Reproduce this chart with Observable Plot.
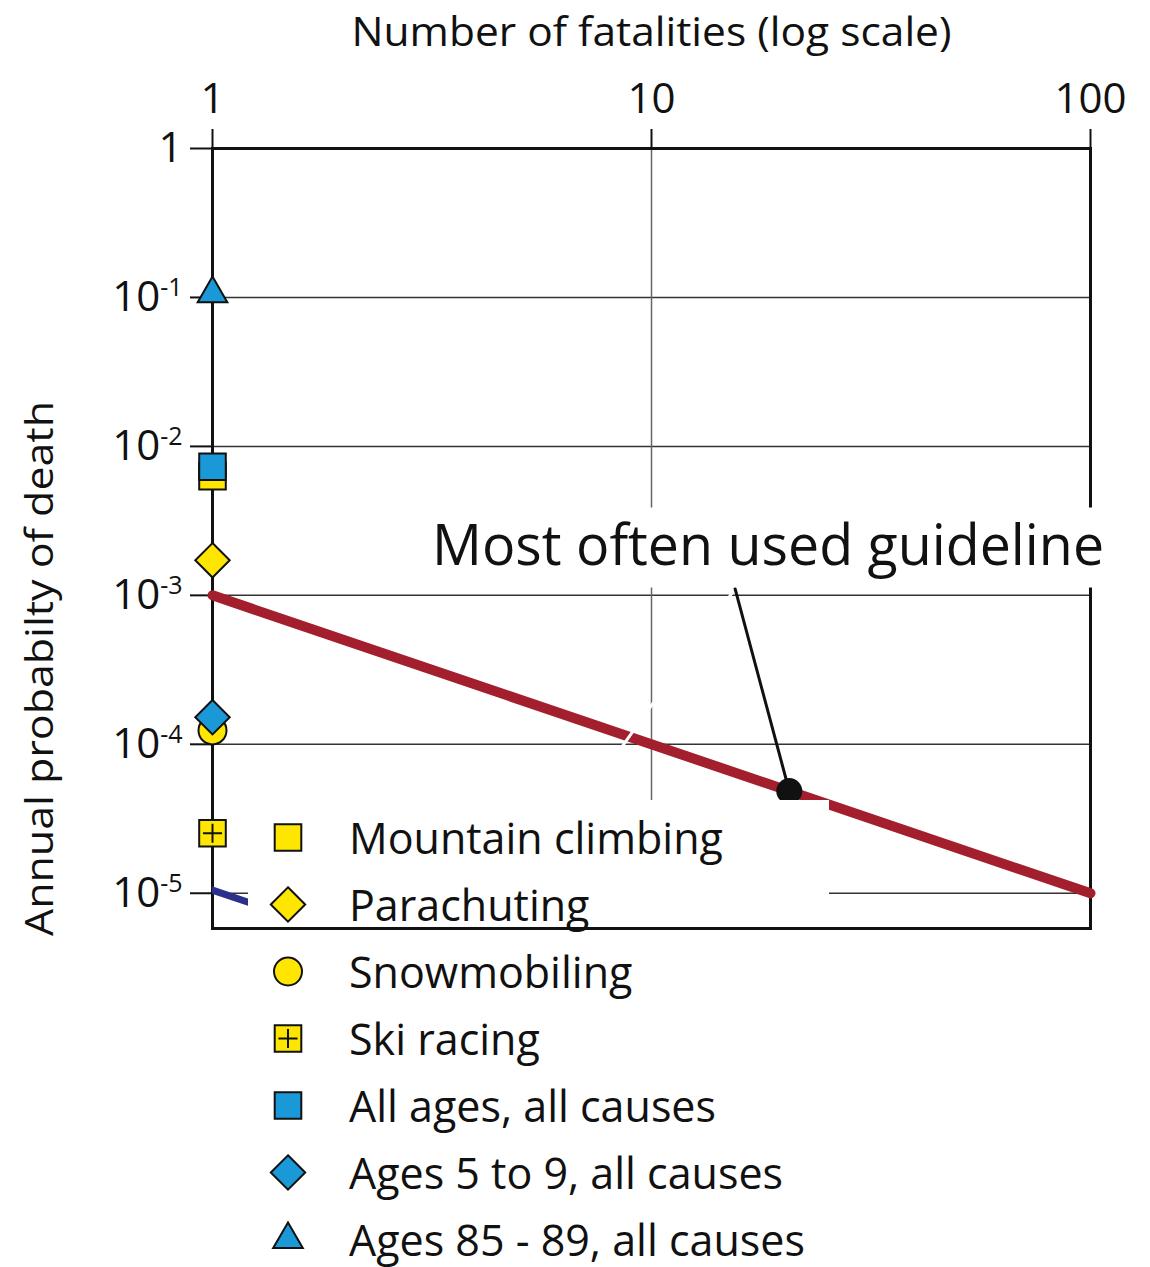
<!DOCTYPE html>
<html>
<head>
<meta charset="utf-8">
<script src="https://cdn.jsdelivr.net/npm/d3@7"></script>
<script src="https://cdn.jsdelivr.net/npm/@observablehq/plot@0.6"></script>
<style>
html,body{margin:0;padding:0;background:#fff;}
#wrap{position:relative;width:1150px;height:1267px;overflow:hidden;}
#legend{position:absolute;left:248px;top:800px;width:581px;height:467px;background:#fff;box-sizing:border-box;padding-top:3.5px;font-family:"Open Sans",sans-serif;font-size:43px;color:#111;}
.row{display:flex;align-items:center;height:67px;}
.row svg{width:80px;height:67px;flex:none;display:block;}
.row span{margin-left:21px;white-space:nowrap;line-height:1;}
</style>
</head>
<body>
<div id="wrap"></div>
<script>
// ---------------- data ----------------
const xTicks = [1, 10, 100];
const yTicks = [1, 1e-1, 1e-2, 1e-3, 1e-4, 1e-5];
const xDomain = [1, 100];
const yDomain = [5.8e-6, 1];

const categories = ["Mountain climbing", "Parachuting", "Snowmobiling", "Ski racing",
  "All ages, all causes", "Ages 5 to 9, all causes", "Ages 85 - 89, all causes"];
const fatalities = [1, 1, 1, 1, 1, 1, 1];
const probabilities = [6.3e-3, 1.72e-3, 1.24e-4, 2.53e-5, 7.3e-3, 1.52e-4, 0.106];

const guidelineFatalities = [1, 100];
const guidelineProbabilities = [1e-3, 1e-5];
const markedFatalities = [20.6];
const markedProbabilities = [4.85e-5];
const leaderFatalities = [20.6, 15.5];
const leaderProbabilities = [4.85e-5, 1.11e-3];
const lowerLineFatalities = [1, 100];
const lowerLineProbabilities = [1.05e-5, 1.05e-7];
const whiteoutFatalities = [7.0, 15.3];
const whiteoutProbabilities = [4.2e-5, 1.05e-3];

const xTitle = "Number of fatalities (log scale)";
const yTitle = "Annual probabilty of death";
const annotationText = "Most often used guideline";

// ---------------- styles ----------------
const YELLOW = "#ffe600", BLUE = "#1b98d8", RED = "#a31f2e", NAVY = "#2b318a", INK = "#111";
const markerStyle = {
  "Mountain climbing":        {symbol: "square",   fill: YELLOW, r: 15},
  "Parachuting":              {symbol: "diamond2", fill: YELLOW, r: 15.5},
  "Snowmobiling":             {symbol: "circle",   fill: YELLOW, r: 14},
  "Ski racing":               {symbol: "square",   fill: YELLOW, r: 15, plus: true},
  "All ages, all causes":     {symbol: "square",   fill: BLUE,   r: 15},
  "Ages 5 to 9, all causes":  {symbol: "diamond2", fill: BLUE,   r: 15.5},
  "Ages 85 - 89, all causes": {symbol: "triangle", fill: BLUE,   r: 11}
};
const PLUS_R = 6.2;
const drawOrder = ["Mountain climbing", "All ages, all causes", "Parachuting", "Snowmobiling",
  "Ages 5 to 9, all causes", "Ski racing", "Ages 85 - 89, all causes"];

// ---------------- tables ----------------
const zip = (xs, ys) => xs.map((x, i) => ({n: x, p: ys[i]}));
const points = categories.map((c, i) => ({category: c, n: fatalities[i], p: probabilities[i]}));
const guideline = zip(guidelineFatalities, guidelineProbabilities);
const marked = zip(markedFatalities, markedProbabilities);
const leader = zip(leaderFatalities, leaderProbabilities);
const lowerLine = zip(lowerLineFatalities, lowerLineProbabilities);
const whiteout = zip(whiteoutFatalities, whiteoutProbabilities);
const annotation = [{n: leaderFatalities[1], p: leaderProbabilities[1], label: annotationText}];

const W = 1150, H = 1267;
const common = {
  width: W, height: H,
  marginTop: 148, marginLeft: 212, marginRight: 60, marginBottom: H - 928,
  x: {type: "log", domain: xDomain},
  y: {type: "log", domain: yDomain}
};

const fmtY = d => d === 1 ? "1" : "10^" + Math.round(Math.log10(d));

const markerMarks = [];
for (const c of drawOrder) {
  const st = markerStyle[c];
  const sub = points.filter(d => d.category === c);
  markerMarks.push(Plot.dot(sub, {x: "n", y: "p", symbol: st.symbol, r: st.r, fill: st.fill, stroke: INK, strokeWidth: 2}));
  if (st.plus) markerMarks.push(Plot.dot(sub, {x: "n", y: "p", symbol: "plus", r: PLUS_R, stroke: INK, strokeWidth: 2}));
}

const main = Plot.plot({
  ...common,
  style: {fontFamily: '"Open Sans", sans-serif', background: "white", color: INK},
  marks: [
    Plot.ruleY(yTicks.filter(t => t < 1), {y: d => d, stroke: "#333", strokeWidth: 1.5}),
    Plot.ruleX(xTicks.filter(t => t > 1 && t < 100), {x: d => d, stroke: "#666", strokeWidth: 1.5}),
    Plot.frame({stroke: INK, strokeWidth: 3}),
    Plot.axisX({anchor: "top", ticks: xTicks, tickFormat: d => String(d), tickSize: 20, tickPadding: 16, fontSize: 42, strokeWidth: 2, label: null}),
    Plot.axisY({anchor: "left", ticks: yTicks, tickFormat: fmtY, tickSize: 22, tickPadding: 8, fontSize: 42, strokeWidth: 2, label: null}),
    Plot.line(lowerLine, {x: "n", y: "p", stroke: NAVY, strokeWidth: 7, clip: true}),
    Plot.line(guideline, {x: "n", y: "p", stroke: RED, strokeWidth: 10, strokeLinecap: "round"}),
    Plot.line(whiteout, {x: "n", y: "p", stroke: "white", strokeWidth: 3}),
    Plot.line(leader, {x: "n", y: "p", stroke: INK, strokeWidth: 3}),
    Plot.dot(marked, {x: "n", y: "p", r: 13, fill: INK}),
    ...markerMarks,
    Plot.text(annotation, {x: "n", y: "p", text: "label", dx: 33, dy: -42, fontSize: 56, fill: INK, lineAnchor: "middle", textAnchor: "middle"}),
    Plot.text([xTitle], {text: d => d, frameAnchor: "top", dy: -103, fontSize: 41, fill: INK, lineAnchor: "bottom", textAnchor: "middle"}),
    Plot.text([yTitle], {text: d => d, frameAnchor: "left", rotate: -90, dx: -172, dy: 130, fontSize: 38, fill: INK, lineAnchor: "middle", textAnchor: "middle"})
  ]
});
main.style.position = "absolute";
main.style.left = "0px";
main.style.top = "0px";
const wrap = document.getElementById("wrap");
wrap.appendChild(main);

// superscript exponents on the y tick labels
d3.select(main).selectAll('g[aria-label="y-axis tick label"] text').each(function () {
  const s = this.textContent;
  if (!s.includes("^")) return;
  const [base, exp] = s.split("^");
  const t = d3.select(this);
  t.text("");
  t.append("tspan").text(base);
  t.append("tspan").attr("font-size", 25).attr("dy", -15).text(exp);
});

// fit texts to the reference widths
function fit(content, len) {
  const t = [...main.querySelectorAll("text")].find(e => e.textContent === content);
  if (t) { t.setAttribute("textLength", len); t.setAttribute("lengthAdjust", "spacingAndGlyphs"); }
  return t;
}
fit(xTitle, 600);
fit(yTitle, 535);
const ann = fit(annotationText, 672);
if (ann) {
  const bb = ann.getBBox();
  const rect = document.createElementNS("http://www.w3.org/2000/svg", "rect");
  rect.setAttribute("x", bb.x - 7);
  rect.setAttribute("y", bb.y + 3);
  rect.setAttribute("width", bb.width + 14);
  rect.setAttribute("height", bb.height + 4);
  rect.setAttribute("fill", "white");
  if (ann.getAttribute("transform")) rect.setAttribute("transform", ann.getAttribute("transform"));
  ann.parentNode.insertBefore(rect, ann);
}

// legend (white box overlapping the lower-left of the plot)
const symbolFns = {square: d3.symbolSquare, diamond2: d3.symbolDiamond2, circle: d3.symbolCircle, triangle: d3.symbolTriangle, plus: d3.symbolPlus};
const legend = d3.select(wrap).append("div").attr("id", "legend");
for (const c of categories) {
  const st = markerStyle[c];
  const row = legend.append("div").attr("class", "row");
  const svg = row.append("svg").attr("viewBox", "0 0 80 67");
  const g = svg.append("g").attr("transform", "translate(40,33.5)");
  g.append("path").attr("d", d3.symbol(symbolFns[st.symbol], Math.PI * st.r * st.r)())
    .attr("fill", st.fill).attr("stroke", INK).attr("stroke-width", 2);
  if (st.plus) g.append("path").attr("d", d3.symbol(symbolFns.plus, Math.PI * PLUS_R * PLUS_R)())
    .attr("fill", "none").attr("stroke", INK).attr("stroke-width", 2);
  row.append("span").text(c);
}

// bottom frame line drawn above the legend box
const overlay = Plot.plot({
  ...common,
  x: {...common.x, axis: null},
  y: {...common.y, axis: null},
  style: {background: "transparent"},
  marks: [Plot.ruleY([yDomain[0]], {y: d => d, stroke: INK, strokeWidth: 3})]
});
overlay.style.position = "absolute";
overlay.style.left = "0px";
overlay.style.top = "0px";
overlay.style.pointerEvents = "none";
wrap.appendChild(overlay);
</script>
</body>
</html>
